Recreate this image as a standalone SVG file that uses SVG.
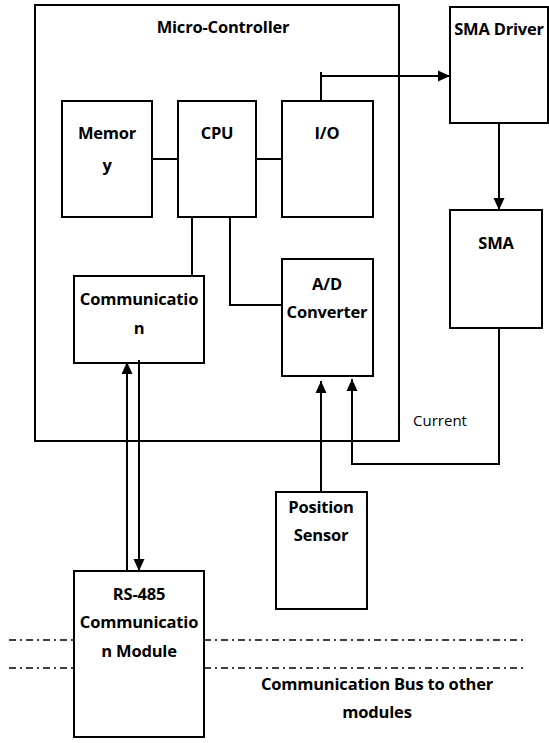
<svg xmlns="http://www.w3.org/2000/svg" width="549" height="743" viewBox="0 0 549 743">
<defs>
<marker id="arr" markerUnits="userSpaceOnUse" markerWidth="14" markerHeight="14" viewBox="0 0 14 14" refX="13" refY="7" orient="auto">
<path d="M1,1.5 L13,7 L1,12.5 Z" fill="#000"/>
</marker>
<style>
.box{fill:#fff;stroke:#000;stroke-width:2}
.t{font-family:"Open Sans","Noto Sans",sans-serif;font-weight:700;font-size:16.5px;text-anchor:middle;fill:#000;letter-spacing:-0.2px}
.r{font-family:"Open Sans","Noto Sans",sans-serif;font-weight:400;font-size:15px;text-anchor:middle;fill:#000}
.ln{fill:none;stroke:#000;stroke-width:2}
.dd{fill:none;stroke:#000;stroke-width:1.5;stroke-dasharray:7 4 2 4}
</style>
</defs>
<g id="micro-controller">
<rect class="box" x="35" y="5" width="364" height="436"/>
<text class="t" x="223" y="33">Micro-Controller</text>
</g>
<g id="memory">
<rect class="box" x="62" y="101" width="90" height="116"/>
<text class="t" x="107" y="139">Memor</text>
<text class="t" x="107" y="171">y</text>
</g>
<g id="cpu">
<rect class="box" x="178" y="101" width="78" height="116"/>
<text class="t" x="217" y="139">CPU</text>
</g>
<g id="io">
<rect class="box" x="282" y="101" width="91" height="116"/>
<text class="t" x="327" y="139">I/O</text>
</g>
<g id="communication">
<rect class="box" x="74" y="276" width="130" height="87"/>
<text class="t" x="139" y="305">Communicatio</text>
<text class="t" x="139" y="334">n</text>
</g>
<g id="ad-converter">
<rect class="box" x="282" y="259" width="91" height="117"/>
<text class="t" x="327" y="290">A/D</text>
<text class="t" x="327" y="318">Converter</text>
</g>
<g id="sma-driver">
<rect class="box" x="450" y="7" width="98" height="116"/>
<text class="t" x="499" y="35">SMA Driver</text>
</g>
<g id="sma">
<rect class="box" x="450" y="210" width="92" height="118"/>
<text class="t" x="496" y="249">SMA</text>
</g>
<g id="position-sensor">
<rect class="box" x="276" y="492" width="91" height="117"/>
<text class="t" x="321" y="513">Position</text>
<text class="t" x="321" y="541">Sensor</text>
</g>
<g id="rs485">
<rect class="box" x="74" y="571" width="130" height="166"/>
<text class="t" x="139" y="600">RS-485</text>
<text class="t" x="139" y="628">Communicatio</text>
<text class="t" x="139" y="657">n Module</text>
</g>
<g id="bus">
<path class="dd" d="M9,640 H74 M204,640 H523"/>
<path class="dd" d="M9,668 H74 M204,668 H523"/>
<text class="t" x="377" y="690">Communication Bus to other</text>
<text class="t" x="377" y="718">modules</text>
</g>
<g id="connectors">
<path class="ln" d="M152,159 H178"/>
<path class="ln" d="M256,159 H282"/>
<path class="ln" d="M321,101 V72"/>
<path class="ln" d="M321,76 H450" marker-end="url(#arr)"/>
<path class="ln" d="M499,123 V210" marker-end="url(#arr)"/>
<path class="ln" d="M192,217 V276"/>
<path class="ln" d="M230,217 V305 H282"/>
<path class="ln" d="M127,571 V362" marker-end="url(#arr)"/>
<path class="ln" d="M139,360 V571" marker-end="url(#arr)"/>
<path class="ln" d="M321,492 V381" marker-end="url(#arr)"/>
<path class="ln" d="M499,328 V464 H352 V379" marker-end="url(#arr)"/>
<text class="r" x="440" y="426">Current</text>
</g>
</svg>
